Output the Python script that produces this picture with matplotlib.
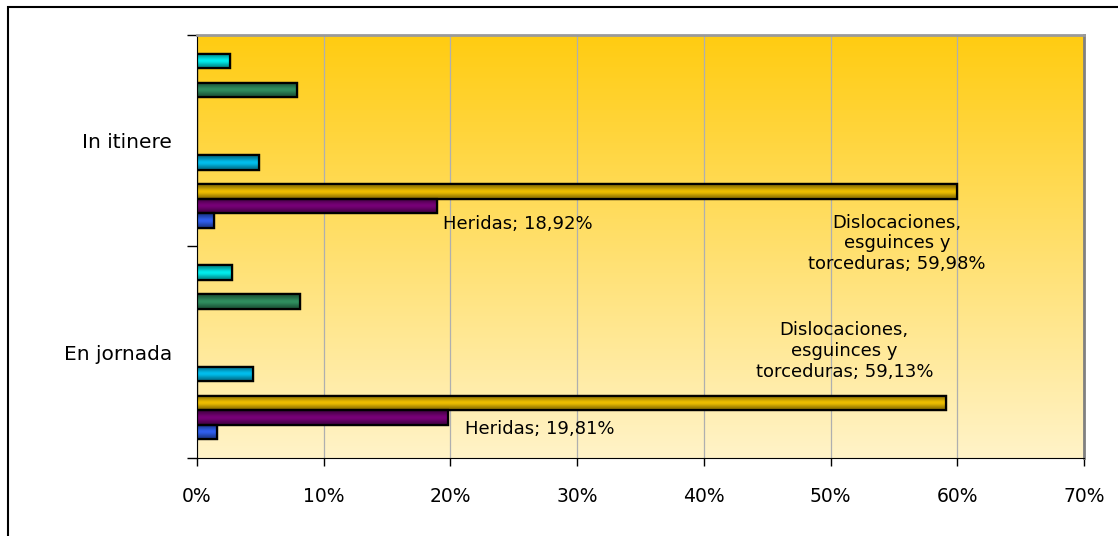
import numpy as np
import matplotlib
matplotlib.use("Agg")
import matplotlib.pyplot as plt
from matplotlib.colors import LinearSegmentedColormap, to_rgb
from matplotlib.patches import Rectangle

# ── 数据 ──────────────────────────────────────────────────────────────────────
categorias = ["En jornada", "In itinere"]

# 12 series (de abajo arriba dentro de cada grupo); valores en %
serie_01 = [1.6, 1.35]
heridas = [19.81, 18.92]
dislocaciones = [59.13, 59.98]
serie_04 = [0.0, 0.0]
serie_05 = [4.4, 4.9]
serie_06 = [0.0, 0.0]
serie_07 = [0.0, 0.0]
serie_08 = [0.0, 0.0]
serie_09 = [0.0, 0.0]
serie_10 = [8.1, 7.9]
serie_11 = [0.0, 0.0]
serie_12 = [2.8, 2.6]

series = [serie_01, heridas, dislocaciones, serie_04, serie_05, serie_06,
          serie_07, serie_08, serie_09, serie_10, serie_11, serie_12]
colores = ["#3366FF", "#800080", "#FFCC00", "#FF8080", "#00CCFF", "#99CCFF",
           "#CC99FF", "#FF99CC", "#993366", "#339966", "#FFFF99", "#00FFFF"]

xticks = [0, 10, 20, 30, 40, 50, 60, 70]
xtick_labels = ["0%", "10%", "20%", "30%", "40%", "50%", "60%", "70%"]

plt.rcParams["font.family"] = ["DejaVu Sans"]

# ── 绘图 ──────────────────────────────────────────────────────────────────────
fig = plt.figure(figsize=(11.18, 5.36), dpi=100)
ax = fig.add_axes([197 / 1118, 1 - 458 / 536, 887 / 1118, 423 / 536])

# marco exterior del gráfico
fig.patches.append(Rectangle((8 / 1118, -0.1), 1.2, 1.1 - 7 / 536,
                             transform=fig.transFigure, fill=False,
                             edgecolor="black", linewidth=1.5))

# fondo degradado
grad = np.linspace(0, 1, 256).reshape(-1, 1)
fondo = LinearSegmentedColormap.from_list("fondo", ["#FFF3C8", "#FFCC11"])
ax.imshow(grad, extent=[0, 70, 0, 2], origin="lower", aspect="auto",
          cmap=fondo, zorder=0)

slot = 14.5 / 211.5
n = len(series)
bar_grad = np.array([0.0, 0.5, 1.0, 0.5, 0.0]).reshape(-1, 1)

for k, (vals, col) in enumerate(zip(series, colores)):
    ys = [i + 0.5 + (k - (n - 1) / 2) * slot for i in range(len(categorias))]
    bars = ax.barh(ys, vals, height=slot, color=col, edgecolor="black",
                   linewidth=1.6, zorder=3)
    rgb = np.array(to_rgb(col))
    cmap = LinearSegmentedColormap.from_list(f"b{k}", [rgb * 0.55, rgb])
    for b, v, y in zip(bars, vals, ys):
        if v <= 0:
            continue
        im = ax.imshow(bar_grad, extent=[0, v, y - slot / 2, y + slot / 2],
                       origin="lower", aspect="auto", cmap=cmap,
                       interpolation="bicubic", zorder=3.5)
        im.set_clip_path(b)
        ax.barh([y], [v], height=slot, facecolor="none", edgecolor="black",
                linewidth=1.6, zorder=4)

# etiquetas de datos
fmt = lambda v: f"{v:.2f}".replace(".", ",") + "%"
y_her = [i + 0.5 + (1 - (n - 1) / 2) * slot for i in range(2)]
y_dis = [i + 0.5 + (2 - (n - 1) / 2) * slot for i in range(2)]

ax.annotate(f"Heridas; {fmt(heridas[1])}", (heridas[1], y_her[1]),
            xytext=(6, -18), textcoords="offset pixels",
            ha="left", va="center", fontsize=13, zorder=5)
ax.annotate(f"Heridas; {fmt(heridas[0])}", (heridas[0], y_her[0]),
            xytext=(17, -12), textcoords="offset pixels",
            ha="left", va="center", fontsize=13, zorder=5)
ax.annotate(f"Dislocaciones,\nesguinces y\ntorceduras; {fmt(dislocaciones[1])}",
            (dislocaciones[1], y_dis[1]), xytext=(-60, -52),
            textcoords="offset pixels", ha="center", va="center",
            multialignment="center", fontsize=13, linespacing=1.2, zorder=5)
ax.annotate(f"Dislocaciones,\nesguinces y\ntorceduras; {fmt(dislocaciones[0])}",
            (dislocaciones[0], y_dis[0]), xytext=(-102, 52),
            textcoords="offset pixels", ha="center", va="center",
            multialignment="center", fontsize=13, linespacing=1.2, zorder=5)

# ejes
ax.set_xlim(0, 70)
ax.set_ylim(0, 2)
ax.set_xticks(xticks)
ax.set_xticklabels(xtick_labels, fontsize=13.5)
ax.tick_params(axis="x", direction="out", length=6, width=1, pad=15,
               color="black")
ax.set_yticks([0, 1, 2])
ax.set_yticklabels([])
ax.set_yticks([0.5, 1.5], minor=True)
ax.set_yticklabels(categorias, minor=True, fontsize=14.5)
ax.tick_params(axis="y", which="major", direction="out", length=7, width=1)
ax.tick_params(axis="y", which="minor", length=0, pad=18)

ax.grid(axis="x", color="#AFAFAF", linewidth=0.9, zorder=1)
ax.set_axisbelow(True)

ax.spines["left"].set_color("black")
ax.spines["bottom"].set_color("black")
ax.spines["top"].set_color("#9A9A9A")
ax.spines["top"].set_linewidth(2)
ax.spines["right"].set_color("#808080")
ax.spines["right"].set_linewidth(2)

fig.savefig("out.png", dpi=100)
